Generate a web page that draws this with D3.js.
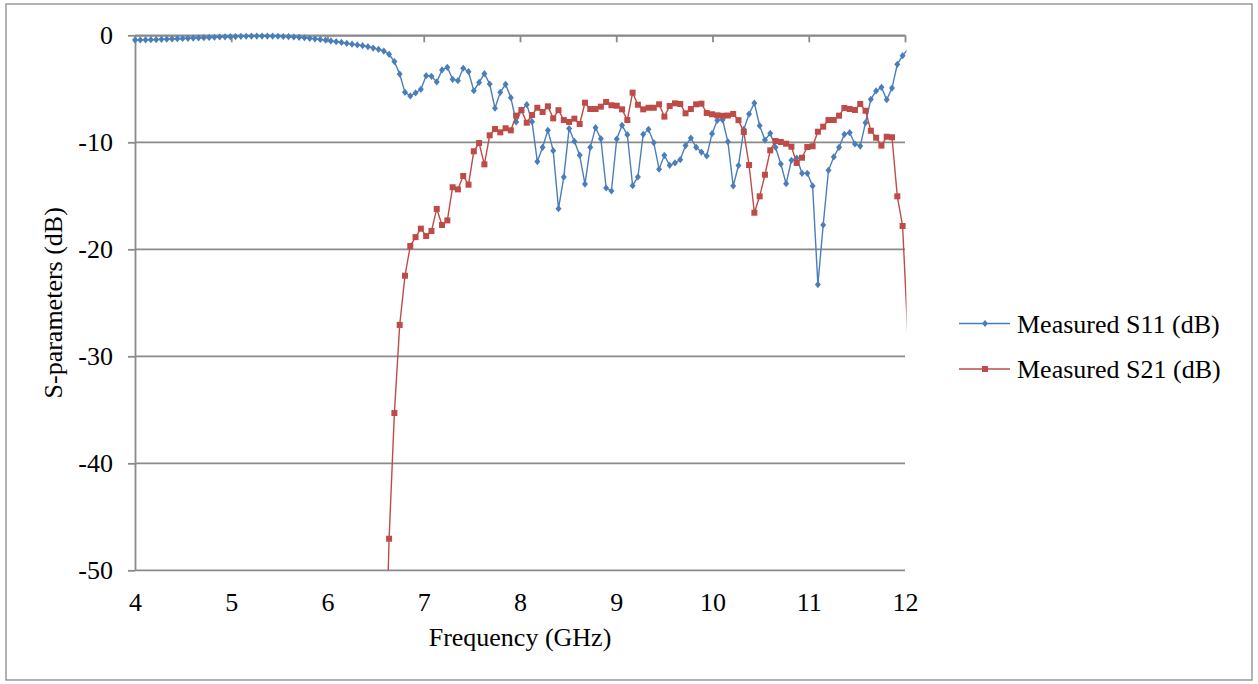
<!DOCTYPE html>
<html>
<head>
<meta charset="utf-8">
<script src="https://cdn.jsdelivr.net/npm/d3@7"></script>
<style>
  body { margin: 0; background: #fff; }
  svg text { font-family: "Liberation Serif", "Times New Roman", serif; fill: #000; }
</style>
</head>
<body>
<svg id="chart" width="1258" height="684"></svg>
<script>
// 扫频设置 (GHz)
const freqStart = 4;
const freqStep = 0.055;

// S11 测量值 (dB)，每个扫频点一个
const s11Values = [
  -0.44, -0.43, -0.42, -0.41, -0.40, -0.38, -0.36, -0.34, -0.32, -0.30,
  -0.28, -0.26, -0.24, -0.22, -0.20, -0.18, -0.16, -0.14, -0.13, -0.12,
  -0.10, -0.09, -0.08, -0.07, -0.07, -0.07, -0.08, -0.09, -0.11, -0.13,
  -0.16, -0.19, -0.23, -0.28, -0.33, -0.39, -0.45, -0.53, -0.60, -0.67,
  -0.75, -0.83, -0.90, -0.97, -1.06, -1.19, -1.31, -1.47, -1.78, -2.46,
  -3.62, -5.33, -5.67, -5.39, -5.05, -3.77, -3.83, -4.36, -3.24, -2.99,
  -4.11, -4.24, -3.08, -3.40, -5.18, -4.40, -3.59, -4.55, -6.82, -5.33,
  -4.58, -5.83, -8.10, -7.00, -6.48, -8.07, -11.8, -10.47, -8.88, -10.78,
  -16.2, -13.25, -8.72, -9.90, -11.2, -13.9, -10.47, -8.63, -9.66, -14.27,
  -14.55, -9.69, -8.41, -9.29, -14.05, -13.24, -9.25, -8.79, -10.04, -12.52,
  -11.22, -12.15, -11.93, -11.62, -10.31, -9.60, -10.47, -10.91, -11.28, -9.19,
  -7.95, -7.90, -9.95, -14.08, -12.17, -8.79, -7.36, -6.33, -8.45, -9.79,
  -9.16, -10.47, -12.03, -13.87, -11.68, -11.47, -12.90, -12.90, -14.08, -23.3,
  -17.73, -12.62, -11.37, -10.47, -9.25, -9.10, -10.16, -10.35, -8.17, -5.98,
  -5.20, -4.86, -6.02, -4.93, -2.71, -1.90, -1.30
];

// S21 测量值 (dB)，从第 47 个扫频点开始（之前都低于 -50）
const s21Start = 47;
const s21Values = [
  -65, -47.05, -35.3, -27.07, -22.47, -19.69, -18.86, -18.07, -18.76, -18.29,
  -16.23, -17.73, -17.3, -14.2, -14.4, -13.15, -13.96, -10.84, -10.07, -12.06,
  -9.35, -8.76, -9.07, -8.69, -8.88, -7.51, -6.98, -8.17, -7.45, -6.77,
  -7.17, -6.64, -7.76, -7.00, -7.92, -8.10, -7.79, -8.29, -6.30, -6.89,
  -6.89, -6.67, -6.23, -6.54, -6.58, -6.92, -7.92, -5.36, -6.49, -6.92,
  -6.77, -6.77, -6.45, -7.60, -6.61, -6.36, -6.42, -7.29, -6.89, -6.45,
  -6.39, -7.26, -7.38, -7.48, -7.52, -7.50, -7.35, -7.93, -9.04, -12.12,
  -16.58, -15.05, -13.03, -10.75, -9.88, -9.97, -10.13, -10.41, -11.93, -11.44,
  -10.44, -10.37, -9.01, -8.54, -7.92, -7.92, -7.51, -6.79, -6.89, -6.98,
  -6.42, -7.05, -8.92, -9.57, -10.31, -9.48, -9.53, -15.05, -17.82, -28.2
];

const xTicks = [4, 5, 6, 7, 8, 9, 10, 11, 12];
const yTicks = [0, -10, -20, -30, -40, -50];
const seriesNames = ["Measured S11 (dB)", "Measured S21 (dB)"];
const seriesColors = ["#4A7EBB", "#BE4B48"];

const s11 = s11Values.map((v, i) => ({ f: freqStart + i * freqStep, v: v }));
const s21 = s21Values.map((v, i) => ({ f: freqStart + (i + s21Start) * freqStep, v: v }));

const svg = d3.select("#chart");

// 外框
svg.append("rect")
  .attr("x", 6).attr("y", 4)
  .attr("width", 1246).attr("height", 676)
  .attr("fill", "#fff")
  .attr("stroke", "#8a8a8a")
  .attr("stroke-width", 1.3);

// 坐标比例尺
const x = d3.scaleLinear().domain([4, 12]).range([135, 905]);
const y = d3.scaleLinear().domain([-50, 0]).range([570.3, 35.3]);

const gridColor = "#8a8a8a";

// 水平网格线
svg.append("g")
  .selectAll("line")
  .data(yTicks)
  .enter()
  .append("line")
  .attr("x1", x(4)).attr("x2", x(12))
  .attr("y1", d => y(d)).attr("y2", d => y(d))
  .attr("stroke", gridColor)
  .attr("stroke-width", 1.8);

// y 轴
const yAxis = svg.append("g")
  .attr("transform", `translate(${x(4)},0)`)
  .call(d3.axisLeft(y).tickValues(yTicks).tickSize(7).tickSizeOuter(0)
    .tickPadding(15).tickFormat(d => String(d)));
yAxis.select(".domain").attr("stroke", gridColor).attr("stroke-width", 1.8);
yAxis.selectAll(".tick line").attr("stroke", gridColor).attr("stroke-width", 1.8);
yAxis.selectAll(".tick text").attr("font-size", 26).attr("font-family", "Liberation Serif");

// x 轴线在 0 dB 处，刻度向下
const xAxisTop = svg.append("g")
  .attr("transform", `translate(0,${y(0)})`)
  .call(d3.axisBottom(x).tickValues(xTicks).tickSize(7).tickSizeOuter(0).tickFormat(""));
xAxisTop.select(".domain").attr("stroke", gridColor).attr("stroke-width", 1.8);
xAxisTop.selectAll(".tick line").attr("stroke", gridColor).attr("stroke-width", 1.8);

// x 轴标签在底部
const xAxisLabels = svg.append("g")
  .attr("transform", `translate(0,${y(-50)})`)
  .call(d3.axisBottom(x).tickValues(xTicks).tickSize(0).tickPadding(22).tickFormat(d => String(d)));
xAxisLabels.select(".domain").remove();
xAxisLabels.selectAll(".tick text").attr("font-size", 26).attr("font-family", "Liberation Serif");

// 坐标轴标题
svg.append("text")
  .attr("x", 520).attr("y", 646)
  .attr("text-anchor", "middle")
  .attr("font-size", 26)
  .text("Frequency (GHz)");

svg.append("text")
  .attr("transform", `translate(62,${(y(0) + y(-50)) / 2}) rotate(-90)`)
  .attr("text-anchor", "middle")
  .attr("font-size", 26)
  .text("S-parameters (dB)");

// 绘图区裁剪
svg.append("clipPath")
  .attr("id", "plot-clip")
  .append("rect")
  .attr("x", x(4)).attr("y", y(0) - 6)
  .attr("width", x(12) - x(4) + 1.5)
  .attr("height", y(-50) - y(0) + 6);

const line = d3.line()
  .x(d => x(d.f))
  .y(d => y(d.v));

const inside = d => d.f <= 12.0001 && d.v >= -50;

const diamond = "M0,-3.6L3,0L0,3.6L-3,0Z";

// S11
svg.append("path")
  .datum(s11)
  .attr("clip-path", "url(#plot-clip)")
  .attr("fill", "none")
  .attr("stroke", seriesColors[0])
  .attr("stroke-width", 1.4)
  .attr("d", line);

svg.append("g")
  .selectAll("path")
  .data(s11.filter(inside))
  .enter()
  .append("path")
  .attr("transform", d => `translate(${x(d.f)},${y(d.v)})`)
  .attr("d", diamond)
  .attr("fill", seriesColors[0]);

// S21
svg.append("path")
  .datum(s21)
  .attr("clip-path", "url(#plot-clip)")
  .attr("fill", "none")
  .attr("stroke", seriesColors[1])
  .attr("stroke-width", 1.4)
  .attr("d", line);

svg.append("g")
  .selectAll("rect")
  .data(s21.filter(inside))
  .enter()
  .append("rect")
  .attr("x", d => x(d.f) - 3)
  .attr("y", d => y(d.v) - 3)
  .attr("width", 6).attr("height", 6)
  .attr("fill", seriesColors[1]);

// 图例
const legend = svg.append("g");
const legendY = [323.5, 369];
seriesNames.forEach((name, i) => {
  const ly = legendY[i];
  legend.append("line")
    .attr("x1", 959).attr("x2", 1010)
    .attr("y1", ly).attr("y2", ly)
    .attr("stroke", seriesColors[i])
    .attr("stroke-width", 1.4);
  if (i === 0) {
    legend.append("path")
      .attr("transform", `translate(985,${ly})`)
      .attr("d", diamond)
      .attr("fill", seriesColors[i]);
  } else {
    legend.append("rect")
      .attr("x", 982).attr("y", ly - 3)
      .attr("width", 6).attr("height", 6)
      .attr("fill", seriesColors[i]);
  }
  legend.append("text")
    .attr("x", 1017).attr("y", ly + 9)
    .attr("font-size", 26)
    .text(name);
});
</script>
</body>
</html>
